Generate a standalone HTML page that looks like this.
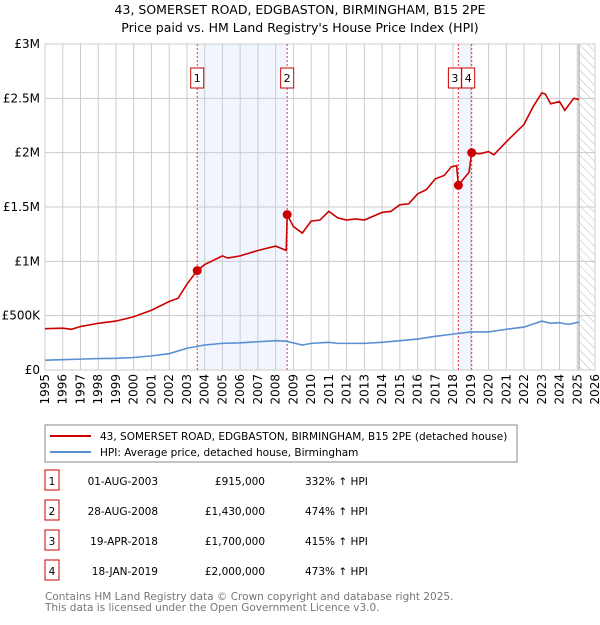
<!DOCTYPE html>
<html><head><meta charset="utf-8"><style>
body{margin:0;background:#fff;font-family:"Liberation Sans","DejaVu Sans",sans-serif}
svg text{font-family:"DejaVu Sans","Liberation Sans",sans-serif}
</style></head><body>
<svg id="c" width="600" height="620" xmlns="http://www.w3.org/2000/svg">
<defs><pattern id="hatch" width="6" height="6" patternUnits="userSpaceOnUse" patternTransform="rotate(-45)"><line x1="0" y1="0" x2="0" y2="6" stroke="#bbb" stroke-width="1"/></pattern></defs>
<text x="300" y="14" text-anchor="middle" font-size="12.5">43, SOMERSET ROAD, EDGBASTON, BIRMINGHAM, B15 2PE</text>
<text x="300" y="32" text-anchor="middle" font-size="12.5">Price paid vs. HM Land Registry's House Price Index (HPI)</text>
<g id="plot"></g>
<rect x="45" y="425" width="472" height="37" fill="#fff" stroke="#888"/>
<line x1="50" y1="436" x2="91" y2="436" stroke="#cc0000" stroke-width="2"/>
<text x="100" y="440" font-size="10.5">43, SOMERSET ROAD, EDGBASTON, BIRMINGHAM, B15 2PE (detached house)</text>
<line x1="50" y1="452" x2="91" y2="452" stroke="#5b8fd4" stroke-width="2"/>
<text x="100" y="456" font-size="10.5">HPI: Average price, detached house, Birmingham</text>
<g id="tbl" font-size="10.5"></g>
<text x="45" y="600" font-size="10.5" fill="#777">Contains HM Land Registry data © Crown copyright and database right 2025.</text>
<text x="45" y="611" font-size="10.5" fill="#777">This data is licensed under the Open Government Licence v3.0.</text>
</svg>
<script>
const propYears=[1995,1996,1996.5,1997,1998,1999,2000,2001,2002,2002.5,2003,2003.58,2004,2005,2005.3,2006,2007,2008,2008.6,2008.65,2009,2009.5,2010,2010.5,2011,2011.5,2012,2012.5,2013,2014,2014.5,2015,2015.5,2016,2016.5,2017,2017.5,2017.9,2018.2,2018.3,2018.9,2019.05,2019.5,2020,2020.3,2021,2021.5,2022,2022.5,2023,2023.2,2023.5,2024,2024.3,2024.8,2025.1];
const propValues=[0.38,0.385,0.375,0.4,0.43,0.45,0.49,0.55,0.63,0.66,0.79,0.915,0.97,1.05,1.03,1.05,1.1,1.14,1.1,1.43,1.32,1.26,1.37,1.38,1.46,1.40,1.38,1.39,1.38,1.45,1.46,1.52,1.53,1.62,1.66,1.76,1.79,1.87,1.88,1.70,1.82,2.0,1.99,2.01,1.98,2.1,2.18,2.26,2.42,2.55,2.54,2.45,2.47,2.39,2.5,2.49];
const hpiYears=[1995,1996,1997,1998,1999,2000,2001,2002,2003,2004,2005,2006,2007,2008,2008.6,2009.5,2010,2011,2011.5,2012,2013,2014,2015,2016,2017,2018,2019,2020,2021,2022,2023,2023.5,2024,2024.5,2025.1];
const hpiValues=[0.09,0.095,0.1,0.105,0.108,0.115,0.13,0.15,0.2,0.23,0.245,0.25,0.26,0.27,0.265,0.23,0.245,0.255,0.245,0.245,0.245,0.255,0.27,0.285,0.31,0.33,0.35,0.35,0.375,0.395,0.45,0.43,0.435,0.42,0.44];
const saleLabels=["1","2","3","4"];
const saleYears=[2003.58,2008.65,2018.3,2019.05];
const saleValues=[0.915,1.43,1.70,2.0];
const saleDates=["01-AUG-2003","28-AUG-2008","19-APR-2018","18-JAN-2019"];
const salePrices=["£915,000","£1,430,000","£1,700,000","£2,000,000"];
const saleHpi=["332% ↑ HPI","474% ↑ HPI","415% ↑ HPI","473% ↑ HPI"];
const yTicks=[0,0.5,1,1.5,2,2.5,3];
const yTickLabels=["£0","£500K","£1M","£1.5M","£2M","£2.5M","£3M"];
const xStart=1995,xEnd=2026,dataEnd=2025.1;

const L=45,R=595,T=44,B=370,NS="http://www.w3.org/2000/svg";
const X=y=>L+(y-xStart)/(xEnd-xStart)*(R-L);
const Y=v=>B-v/3*(B-T);
const g=document.getElementById('plot');
function mk(t,a,p){const e=document.createElementNS(NS,t);for(const k in a)e.setAttribute(k,a[k]);(p||g).appendChild(e);return e;}
let s=mk('rect',{x:X(saleYears[0]),y:T,width:X(saleYears[1])-X(saleYears[0]),height:B-T,fill:'#eef3fc',opacity:0.8});


s=mk('rect',{x:X(saleYears[2]),y:T,width:X(saleYears[3])-X(saleYears[2]),height:B-T,fill:'#eef3fc',opacity:0.8});


for(let yr=xStart;yr<=xEnd;yr++){
 const gl=mk('line',{x1:X(yr),x2:X(yr),y1:T,y2:B,stroke:'#ccc'});
 
 
 const t=mk('text',{x:0,y:0,'font-size':12,'text-anchor':'end',transform:`translate(${X(yr)+4},374) rotate(-90)`});
 t.textContent=yr;
 
 
}
yTicks.forEach((v,i)=>{
 const gl=mk('line',{x1:L,x2:R,y1:Y(v),y2:Y(v),stroke:'#ccc'});
 
 
 const t=mk('text',{x:40,y:Y(v)+4,'font-size':12,'text-anchor':'end'});
 t.textContent=yTickLabels[i];
 
 
});
const h=mk('rect',{x:X(dataEnd),y:T,width:R-X(dataEnd),height:B-T,fill:'url(#hatch)',stroke:'#999'});


const ax=mk('rect',{x:L,y:T,width:R-L,height:B-T,fill:'none',stroke:'#ccc'});


saleYears.forEach((yr,i)=>{
 const l=mk('line',{x1:X(yr),x2:X(yr),y1:T,y2:B,stroke:'#e33','stroke-dasharray':'2,2','stroke-width':1});
 
 
});
function poly(xs,vs,col,name){
 const p=mk('polyline',{points:xs.map((x,i)=>X(x)+','+Y(vs[i])).join(' '),fill:'none',stroke:col,'stroke-width':1.6});
 
 
}
poly(hpiYears,hpiValues,'#5b8fd4','hpi-line');
poly(propYears,propValues,'#cc0000','property-price-line');
saleYears.forEach((yr,i)=>{
 const c=mk('circle',{cx:X(yr),cy:Y(saleValues[i]),r:4.5,fill:'#cc0000'});
 
 
 const bx=X(yr)+(i==2?-10:(i==3?-10:-6.5));
 const r=mk('rect',{x:bx,y:68,width:13,height:20,fill:'#fff',stroke:'#cc0000'});
 
 
 const t=mk('text',{x:bx+6.5,y:82,'font-size':11,'text-anchor':'middle'});
 t.textContent=saleLabels[i];
 
 
});
const tb=document.getElementById('tbl');
saleLabels.forEach((lab,i)=>{
 const y=483+i*30;
 const r=mk('rect',{x:45,y:y-13,width:14,height:20,fill:'#fff',stroke:'#cc0000'},tb);
 
 
 const cells=[[52,lab,'middle','table-row-number'],[158,saleDates[i],'end','table-row-date'],[265,salePrices[i],'end','table-row-price'],[305,saleHpi[i],'start','table-row-hpi']];
 cells.forEach(c=>{
  const t=mk('text',{x:c[0],y:y+2,'text-anchor':c[2]},tb);
  t.textContent=c[1];
  
  
 });
});
</script>
</body></html>
